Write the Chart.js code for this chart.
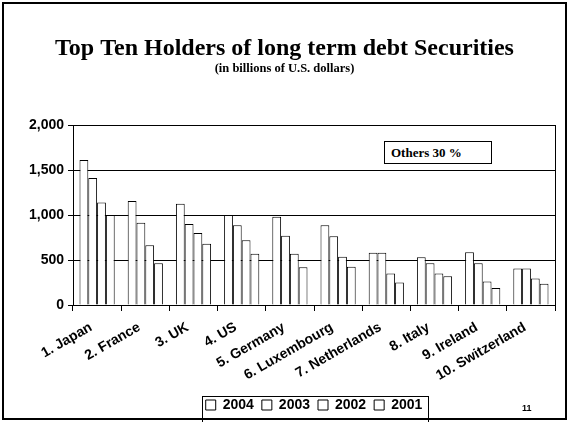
<!DOCTYPE html>
<html>
<head>
<meta charset="utf-8">
<script src="https://cdn.jsdelivr.net/npm/chart.js@4"></script>
<style>
body{margin:0;background:#fff}
#page{position:relative;width:569px;height:422px;overflow:hidden}
#frame{position:absolute;left:2px;top:2px;width:565px;height:418px;box-sizing:border-box;border:2px solid #000}
#cv{position:absolute;left:0;top:0}
#others{position:absolute;left:384px;top:141px;width:108px;height:23px;box-sizing:border-box;border:1px solid #000;background:#fff;font:bold 13px "Liberation Serif",serif;line-height:21px;padding-left:6px}
#pgnum{position:absolute;left:522px;top:403px;font:bold 9px "Liberation Sans",sans-serif}
</style>
</head>
<body>
<div id="page">
  <div id="frame"></div>
  <canvas id="cv" width="569" height="422"></canvas>
  <div id="others">Others 30 %</div>
  <div id="pgnum">11</div>
</div>
<script>
// countries (x axis)
const countries = ['1. Japan', '2. France', '3. UK', '4. US', '5. Germany', '6. Luxembourg',
    '7. Netherlands', '8. Italy', '9. Ireland', '10. Switzerland']
const years = ['2004', '2003', '2002', '2001']

// billions of US dollars
const v2004 = [1610, 1155, 1125, 1000, 980, 885, 580, 530, 585, 405]
const v2003 = [1410, 915, 900, 885, 770, 765, 580, 465, 465, 405]
const v2002 = [1140, 665, 800, 720, 570, 535, 350, 350, 260, 295]
const v2001 = [1000, 465, 680, 570, 420, 425, 250, 320, 190, 235]

const yTicks = [0, 500, 1000, 1500, 2000]

const series = [v2004, v2003, v2002, v2001]
const sans = '"Liberation Sans", Arial, sans-serif'
const serif = '"Liberation Serif", "Times New Roman", serif'

// box around the legend like the slide has
const legendBox = {
    id: 'legendBox',
    afterDraw(chart) {
        const hb = chart.legend && chart.legend.legendHitBoxes
        if (!hb || !hb.length) return
        const last = hb[hb.length - 1]
        const left = Math.round(hb[0].left - 4) + 0.5
        const right = Math.round(last.left + last.width + 6) + 0.5
        const top = Math.round(hb[0].top - 2) + 0.5
        const ctx = chart.ctx
        ctx.save()
        ctx.strokeStyle = '#000'
        ctx.lineWidth = 1
        ctx.strokeRect(left, top, right - left, 430 - top)
        ctx.restore()
    }
}

const ctx = document.getElementById('cv').getContext('2d')
new Chart(ctx, {
    type: 'bar',
    data: {
        labels: countries,
        datasets: years.map((y, i) => ({
            label: y,
            data: series[i],
            backgroundColor: '#fff',
            borderColor: '#000',
            borderWidth: 1,
            categoryPercentage: 0.73,
            barPercentage: 1.0
        }))
    },
    options: {
        responsive: false,
        animation: false,
        devicePixelRatio: 1,
        layout: { padding: 0 },
        plugins: {
            title: {
                display: true,
                text: 'Top Ten Holders of long term debt Securities',
                color: '#000',
                font: { family: serif, size: 24, weight: 'bold', lineHeight: 1.0 },
                padding: { top: 37, bottom: 0 }
            },
            subtitle: {
                display: true,
                text: '(in billions of U.S. dollars)',
                color: '#000',
                font: { family: serif, size: 12.5, weight: 'bold', lineHeight: 1.0 },
                padding: { top: 2, bottom: 49.5 }
            },
            legend: {
                position: 'bottom',
                fullSize: false,
                labels: {
                    color: '#000',
                    boxWidth: 10,
                    boxHeight: 10,
                    padding: 8,
                    font: { family: sans, size: 14, weight: 'bold' }
                }
            },
            tooltip: { enabled: false }
        },
        scales: {
            x: {
                grid: { display: true, drawOnChartArea: false, color: '#000', tickLength: 6, offset: true },
                border: { color: '#000' },
                ticks: {
                    color: '#000',
                    autoSkip: false,
                    minRotation: 30,
                    maxRotation: 30,
                    padding: 8,
                    labelOffset: -6,
                    font: { family: sans, size: 14, weight: 'bold' }
                },
                afterFit(s) { s.height = 85 }
            },
            y: {
                min: 0,
                max: 2000,
                grid: { color: '#000', tickLength: 5 },
                border: { color: '#000' },
                ticks: {
                    color: '#000',
                    padding: 4,
                    font: { family: sans, size: 14, weight: 'bold' },
                    callback: (v) => v.toLocaleString('en-US')
                },
                afterBuildTicks(s) { s.ticks = yTicks.map(v => ({ value: v })) },
                afterFit(s) { s.width = 73 }
            },
            yR: {
                position: 'right',
                min: 0,
                max: 2000,
                ticks: { display: false },
                grid: { display: false },
                border: { display: true, color: '#000' },
                afterFit(s) { s.width = 14 }
            }
        }
    },
    plugins: [legendBox]
})
</script>
</body>
</html>
